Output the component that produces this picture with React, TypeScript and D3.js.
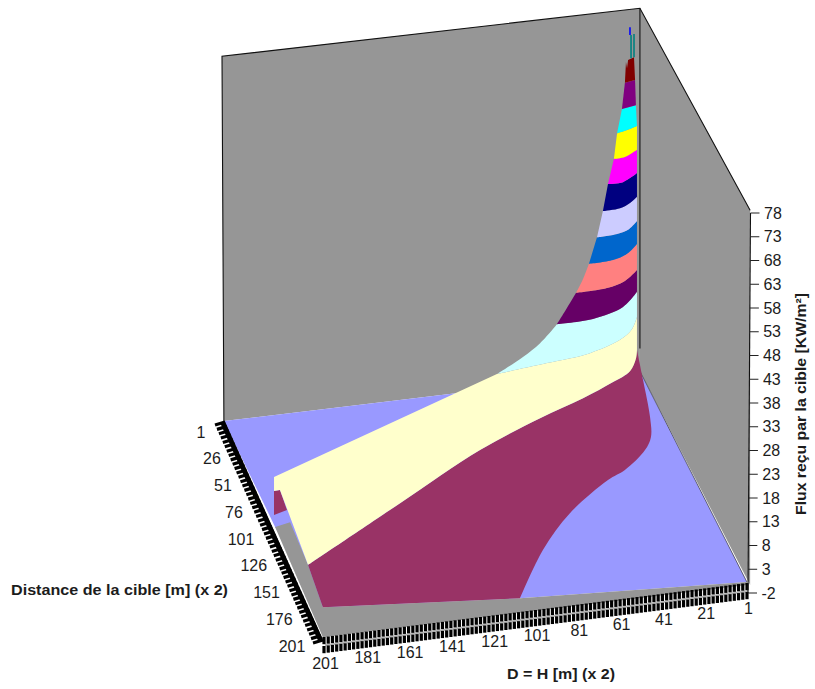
import React from "react";
import * as d3 from "d3";

const W = 815, H = 689;
type P = [number, number];

// Axis labels
const fluxTicks = [78, 73, 68, 63, 58, 53, 48, 43, 38, 33, 28, 23, 18, 13, 8, 3, -2];
const distanceTicks = [1, 26, 51, 76, 101, 126, 151, 176, 201];
const heightTicks = [201, 181, 161, 141, 121, 101, 81, 61, 41, 21, 1];

// Points below are [D on the front axis, flux on the vertical axis], read in the picture plane.
const wallLeft: P[] = [[249.7, 111], [52.1, 121.1], [52.1, 44.7], [248.8, 34.2]];
const wallRight: P[] = [[52.1, 121.1], [0, 78.6], [0, -0.3], [52.1, 44.7]];
const floorTop: P[] = [[248.8, 34.2], [52.1, 44.7], [1.5, 0.3], [108.8, -3.1], [202, -5], [224.6, 11.9]];
const floorFront: P[] = [[224.6, 11.9], [217.5, 12.9], [209, 3.9], [202, -5], [108.8, -3.1], [1.5, 0.3], [1.5, -0.3], [202, -11.3]];

const maroonRight: P[] = [[53.5, 49.2], [50.6, 42.8], [47.3, 35], [46.9, 30.8], [49.7, 28.1], [59.2, 23.9], [67.2, 21.8], [85.2, 14.8], [97.9, 7.1], [108.8, -3.1]];
const maroonCorner: P[] = [[202, -5]];
const maroonStub: P[] = [[225.1, 19.5], [222.3, 19.7], [219, 15.5], [225.1, 14.4]];
const yellowEnd: P[] = [[225.1, 22.4], [225.1, 19.5], [222.3, 19.7]];

const level8: P[] = [[209, 3.9], [165.5, 16.9], [127.7, 28.1], [99.3, 34.8], [79, 39], [64.8, 42.4], [56.8, 44.7], [54, 47.3], [53.5, 49.2]];
const level13: P[] = [[119.7, 44.1], [96, 46.4], [75.7, 48.5], [61.5, 51.3], [55.8, 53.6], [53.5, 56.1]];
const level18: P[] = [[91.3, 54.6], [74.3, 55.7], [60.1, 58.2], [53.5, 61.4]];
const level23: P[] = [[82.3, 61.2], [67.7, 62.2], [59.2, 63.7], [53.5, 66]];
const level28: P[] = [[76.2, 67.3], [64.8, 68.1], [58.2, 69.4], [53.5, 71.5]];
const level33: P[] = [[72.4, 72.9], [62.9, 73.6], [57.3, 74.6], [53.5, 76.3]];
const level38: P[] = [[69.6, 78.4], [61.5, 79], [56.8, 80.1], [53.5, 81.4]];
const level43: P[] = [[67.2, 84.1], [60.1, 84.5], [53.5, 86.4]];
const level48: P[] = [[64.4, 89.4], [59.2, 89.8], [53.5, 91.3]];
const level53: P[] = [[62.9, 94.8], [56.8, 95.7], [53.5, 96.3]];
const level58: P[] = [[60.6, 99.9], [54, 100.7]];
const level63: P[] = [[59.2, 105.4], [54.4, 106]];
const redTop: P[] = [[54.9, 110.8], [57.7, 110.2], [58.2, 108.5], [58.7, 109.8]];

const cyanLeft: P[] = [[107.4, 47.7], [99.3, 50.6]];
const purpleLeft: P[] = [[86.6, 58]];
const salmonLeft: P[] = [[79, 64.1]];

const spikes: { pts: P[]; color: string }[] = [
  { pts: [[56.3, 110.6], [56.3, 115.5]], color: "#008080" },
  { pts: [[54.9, 110.8], [54.9, 115.7]], color: "#008080" },
  { pts: [[56.8, 115.5], [56.8, 117.1]], color: "#0000FF" },
];

const bands: { lower: P[]; upper: P[]; side: P[]; color: string }[] = [
  { lower: level13, upper: level18, side: cyanLeft, color: "#CCFFFF" },
  { lower: level18, upper: level23, side: purpleLeft, color: "#660066" },
  { lower: level23, upper: level28, side: salmonLeft, color: "#FF8080" },
  { lower: level28, upper: level33, side: [], color: "#0066CC" },
  { lower: level33, upper: level38, side: [], color: "#CCCCFF" },
  { lower: level38, upper: level43, side: [], color: "#000080" },
  { lower: level43, upper: level48, side: [], color: "#FF00FF" },
  { lower: level48, upper: level53, side: [], color: "#FFFF00" },
  { lower: level53, upper: level58, side: [], color: "#00FFFF" },
  { lower: level58, upper: level63, side: [], color: "#800080" },
];

const xScale = d3.scaleLinear().domain([201, 1]).range([325, 748]);
const yScale = d3.scaleLinear().domain([-2, 78]).range([593, 213]);

const straight = d3.line<P>().x((d) => xScale(d[0])).y((d) => yScale(d[1]));
const smooth = d3.line<P>().x((d) => xScale(d[0])).y((d) => yScale(d[1])).curve(d3.curveCatmullRom.alpha(0.5));
const join = (p: string | null) => (p ?? "").replace(/^M/, "L");
const closed = (pts: P[]) => (straight(pts) ?? "") + "Z";

const bandPath = (b: { lower: P[]; upper: P[]; side: P[] }) =>
  (smooth(b.lower) ?? "") +
  join(smooth([...b.upper].reverse())) +
  (b.side.length ? join(smooth([b.upper[0], ...[...b.side].reverse(), b.lower[0]])) : "") +
  "Z";

const maroonPath =
  (smooth(level8) ?? "") + join(smooth(maroonRight)) + join(straight(maroonCorner)) + "Z";
const creamPath =
  (smooth(level8) ?? "") + join(straight([level8[8], level13[5]])) + join(smooth([...level13].reverse())) + join(straight(yellowEnd)) + "Z";

// Perspective comb edges
const frontTop = d3.scaleLinear().domain([201, 1]).range([637, 583]);
const sideX = d3.scaleLinear().domain([1, 201]).range([225, 323]);
const sideY = d3.scaleLinear().domain([1, 201]).range([422, 640]);
const frontTicks = d3.range(1, 202, 2);
const sideTicks = d3.range(1, 202, 4);

const sideLabelX = d3.scaleLinear().domain([1, 76, 101, 201]).range([201, 234, 241, 292]);
const sideLabelY = d3.scaleLinear().domain([1, 201]).range([432, 646]);
const frontLabelY = d3.scaleLinear().domain([201, 1]).range([663, 608]);
const axisX = d3.scaleLinear().domain([-2, 78]).range([748, 750.5]);

const font = "'Liberation Sans', Arial, sans-serif";
const textColor = "#1c1c1c";

export default function App() {
  return (
    <svg width={W} height={H} viewBox={`0 0 ${W} ${H}`} style={{ position: "absolute", left: 0, top: 0, background: "#fff" }} fontFamily={font}>
      <path d={closed(wallLeft)} fill="#969696" />
      <path d={closed(wallRight)} fill="#969696" />
      <path d={closed(floorTop)} fill="#9999FF" />
      <path d={closed(floorFront)} fill="#969696" />

      <path d={straight([wallLeft[3], wallLeft[0], wallLeft[1], wallRight[1]]) ?? ""} fill="none" stroke="#111" strokeWidth={1.1} />
      <path d={straight([wallRight[0], [52.1, 49.5]]) ?? ""} fill="none" stroke="#111" strokeWidth={1.1} />
      <path d={straight([wallRight[3], floorTop[2]]) ?? ""} fill="none" stroke="#333" strokeWidth={0.7} />

      <path d={closed(maroonStub)} fill="#993366" />
      <path d={maroonPath} fill="#993366" />
      <path d={creamPath} fill="#FFFFCC" />
      {bands.map((b) => (
        <path key={b.color} d={bandPath(b)} fill={b.color} />
      ))}
      <path d={closed([...level63, ...redTop])} fill="#800000" />
      {spikes.map((s, i) => (
        <path key={i} d={straight(s.pts) ?? ""} stroke={s.color} strokeWidth={1.6} fill="none" />
      ))}

      {/* front category comb */}
      <line x1={xScale(201)} x2={xScale(1)} y1={frontTop(201) + 8.2} y2={frontTop(1) + 8.2} stroke="#b5b5b5" strokeWidth={2} />
      {[0, 1].map((row) =>
        frontTicks.map((d) => {
          const x = xScale(d) - 1;
          const y = frontTop(d) + row * 9;
          return <line key={`f${row}-${d}`} x1={x} x2={x} y1={y} y2={y + 7.2} stroke="#000" strokeWidth={3.2} />;
        })
      )}
      {/* side category comb */}
      <line x1={sideX(1) - 2.5} y1={sideY(1)} x2={sideX(201) - 2.5} y2={sideY(201)} stroke="#000" strokeWidth={5} />
      {sideTicks.map((d) => (
        <line key={`s${d}`} x1={sideX(d)} y1={sideY(d)} x2={sideX(d) - 10} y2={sideY(d) + 3} stroke="#000" strokeWidth={3.2} />
      ))}

      {/* vertical axis */}
      <line x1={axisX(-2)} y1={yScale(-2)} x2={axisX(78)} y2={yScale(78)} stroke="#111" strokeWidth={1.1} />
      {fluxTicks.map((t) => (
        <g key={t}>
          <line x1={axisX(t)} x2={axisX(t) + 9} y1={yScale(t)} y2={yScale(t)} stroke="#222" strokeWidth={1} />
          <text x={axisX(t) + 13.5} y={yScale(t) + 5.5} fontSize={16} fill={textColor}>{t}</text>
        </g>
      ))}

      {distanceTicks.map((t) => (
        <text key={t} x={sideLabelX(t)} y={sideLabelY(t) + 5.5} fontSize={16} textAnchor="middle" fill={textColor}>{t}</text>
      ))}
      {heightTicks.map((t) => (
        <text key={t} x={xScale(t) + 0.5} y={frontLabelY(t) + 5.5} fontSize={16} textAnchor="middle" fill={textColor}>{t}</text>
      ))}

      <text x={11} y={595} fontSize={14.5} fontWeight={700} fill={textColor} textLength={217} lengthAdjust="spacingAndGlyphs">Distance de la cible [m] (x 2)</text>
      <text x={507} y={679} fontSize={14.5} fontWeight={700} fill={textColor} textLength={108} lengthAdjust="spacingAndGlyphs">D = H [m] (x 2)</text>
      <text transform="translate(806,404) rotate(-90)" fontSize={14.5} fontWeight={700} fill={textColor} textAnchor="middle" textLength={222} lengthAdjust="spacingAndGlyphs">Flux reçu par la cible [KW/m²]</text>
    </svg>
  );
}
